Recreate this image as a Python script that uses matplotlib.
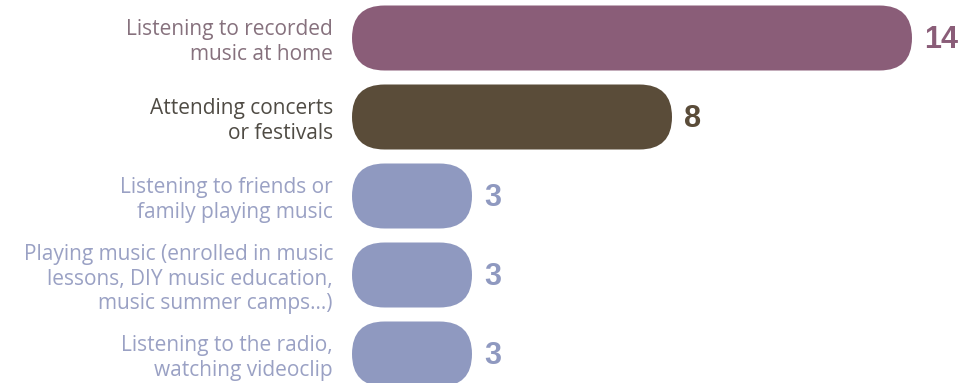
import matplotlib.pyplot as plt
from matplotlib.patches import FancyBboxPatch

categories = [
    "Listening to recorded\nmusic at home",
    "Attending concerts\nor festivals",
    "Listening to friends or\nfamily playing music",
    "Playing music (enrolled in music\nlessons, DIY music education,\nmusic summer camps...)",
    "Listening to the radio,\nwatching videoclip",
]
values = [14, 8, 3, 3, 3]
bar_colors = ["#8a5d78", "#5a4c39", "#8f99c0", "#8f99c0", "#8f99c0"]
text_colors = ["#86717d", "#4f4b44", "#9aa1c4", "#9aa1c4", "#9aa1c4"]

W, H = 959, 383
px_x = 40.0   # pixels per unit value
px_y = 79.0   # pixels per row
x0 = 352      # pixel where bars start
y0 = 38.0     # pixel centre of first row
bar_h = 65 / px_y

fig = plt.figure(figsize=(W / 100, H / 100), dpi=100)
ax = fig.add_axes([0, 0, 1, 1])
ax.set_xlim(-x0 / px_x, (W - x0) / px_x)
ax.set_ylim((H - y0) / px_y, -y0 / px_y)
ax.axis("off")

radius = (bar_h / 2) * px_y / px_x  # in x units
for i, (cat, v) in enumerate(zip(categories, values)):
    pill = FancyBboxPatch((0, i - bar_h / 2), v, bar_h,
                          boxstyle=f"round,pad=0,rounding_size={radius}",
                          mutation_aspect=px_x / px_y,
                          facecolor=bar_colors[i], edgecolor="none")
    ax.add_patch(pill)
    ax.text(-19 / px_x, i + 4 / px_y, cat, ha="right", va="center", fontsize=15,
            family="Open Sans", color=text_colors[i], linespacing=1.2)
    ax.text(v + 12 / px_x, i + 0.02, str(v), ha="left", va="center",
            fontsize=22, family="Liberation Sans",
            fontweight="bold", color=bar_colors[i])

fig.savefig("out.png", dpi=100)
